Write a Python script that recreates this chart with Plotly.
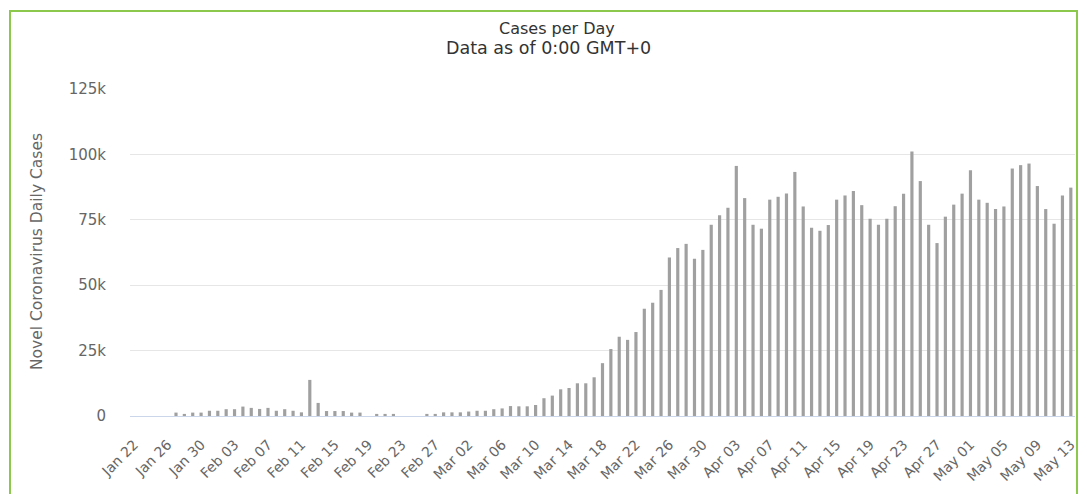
import datetime as dt
import plotly.graph_objects as go

start = dt.date(2020, 1, 22)
dates = [(start + dt.timedelta(days=i)).strftime("%b %d") for i in range(113)]

daily_cases = [
    0, 0, 0, 0, 0, 1300, 800, 1300, 1300, 2000,
    2000, 2600, 2600, 3600, 3100, 2700, 3100, 2000, 2600, 2000,
    1400, 13800, 5000, 1900, 1900, 1900, 1300, 1300, 0, 800,
    800, 800, 0, 0, 0, 800, 800, 1400, 1400, 1400,
    1700, 2000, 2000, 2600, 2900, 3800, 3700, 3700, 4200, 6800,
    7800, 10200, 10700, 12500, 12500, 14800, 20200, 25600, 30300, 29100,
    32100, 41000, 43300, 48200, 60600, 64200, 65800, 60100, 63500, 73100,
    76700, 79600, 95600, 83300, 73100, 71600, 82700, 83800, 85100, 93300,
    80100, 72000, 70800, 73000, 82700, 84300, 86000, 80600, 75400, 73100,
    75400, 80200, 85000, 101100, 89800, 73100, 66100, 76200, 80800, 85000,
    93900, 82700, 81500, 79100, 80100, 94600, 95900, 96500, 87900, 79100,
    73500, 84300, 87300,
]

tick_labels = dates[::4]
y_ticks = [0, 25000, 50000, 75000, 100000, 125000]
y_tick_text = ["0", "25k", "50k", "75k", "100k", "125k"]

title = "Cases per Day"
subtitle = "Data as of 0:00 GMT+0"
y_title = "Novel Coronavirus Daily Cases"

# page body has an 8px margin: work in screen pixels, shift by OFF
OFF = 8
W, H = 1087 - 2 * OFF, 502 - 2 * OFF
L, R, T, B = 130 - OFF, 1075 - OFF, 89 - OFF, 416 - OFF
pw, ph = R - L, B - T


def px_x(px):
    return (px - OFF - L) / pw


def px_y(py):
    return (B - (py - OFF)) / ph


font = "DejaVu Sans, Verdana, sans-serif"

fig = go.Figure(
    go.Bar(
        x=dates,
        y=daily_cases,
        marker=dict(color="#a0a0a0", line=dict(width=0)),
        hoverinfo="x+y",
    )
)

fig.update_layout(
    width=W,
    height=H,
    margin=dict(l=L, r=W - R, t=T, b=H - B, autoexpand=False),
    paper_bgcolor="white",
    plot_bgcolor="white",
    showlegend=False,
    bargap=0.62,
    font=dict(family=font, color="#666666", size=12),
    xaxis=dict(
        type="category",
        range=[-0.5, len(dates) - 0.5],
        tickmode="array",
        tickvals=tick_labels,
        ticktext=tick_labels,
        tickangle=-45,
        ticks="outside",
        ticklen=14,
        tickcolor="rgba(0,0,0,0)",
        showline=True,
        linecolor="#ccd6eb",
        linewidth=1,
        showgrid=False,
        tickfont=dict(size=14, color="#666666"),
        fixedrange=True,
    ),
    yaxis=dict(
        range=[0, 125000],
        tickmode="array",
        tickvals=y_ticks,
        ticktext=y_tick_text,
        ticks="outside",
        ticklen=20,
        tickcolor="rgba(0,0,0,0)",
        showgrid=True,
        gridcolor="#e6e6e6",
        gridwidth=1,
        zeroline=False,
        showline=False,
        tickfont=dict(size=15, color="#666666"),
        fixedrange=True,
    ),
    annotations=[
        dict(text=title, xref="paper", yref="paper", x=px_x(557), y=px_y(28),
             xanchor="center", yanchor="middle", showarrow=False,
             font=dict(family=font, size=16, color="#333333")),
        dict(text=subtitle, xref="paper", yref="paper", x=px_x(548), y=px_y(48),
             xanchor="center", yanchor="middle", showarrow=False,
             font=dict(family=font, size=17.5, color="#333333")),
        dict(text=y_title, xref="paper", yref="paper", x=px_x(37), y=px_y(252),
             xanchor="center", yanchor="middle", showarrow=False, textangle=-90,
             font=dict(family=font, size=15.5, color="#666666")),
    ],
    shapes=[
        dict(type="rect", xref="paper", yref="paper",
             x0=px_x(10), x1=px_x(1077), y0=px_y(540), y1=px_y(11),
             line=dict(color="#8cc84b", width=2), fillcolor="rgba(0,0,0,0)",
             layer="above"),
    ],
)

fig.write_html("out.html")
